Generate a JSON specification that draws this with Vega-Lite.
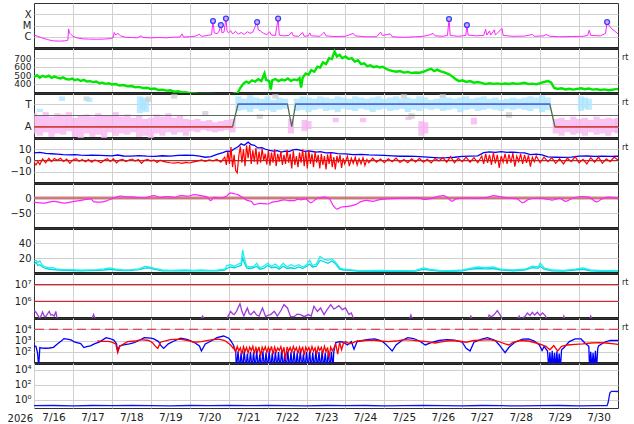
{
  "$schema": "https://vega.github.io/schema/vega-lite/v6.json",
  "background": "white",
  "padding": {"left": 5, "top": 2, "right": 2, "bottom": 2},
  "spacing": 0,
  "bounds": "flush",
  "config": {
    "view": {"stroke": "#333", "strokeWidth": 1},
    "font": "DejaVu Sans",
    "axis": {"labelFont": "DejaVu Sans", "labelFontSize": 10, "labelColor": "#222", "gridColor": "#d0d0d0", "gridWidth": 1, "ticks": false, "title": null},
    "axisX": {"labels": false, "domain": true, "domainWidth": 3, "domainColor": "#222", "grid": true},
    "axisY": {"minExtent": 28, "maxExtent": 28, "labelPadding": 3, "domain": false, "grid": true, "labelOverlap": false, "labelBound": false}
  },
  "vconcat": [
    {
      "width": 584, "height": 45,
      "layer": [
        {
          "data": {"values": [
            {"d":0.00,"f":1.4e-6},{"d":0.10,"f":1.1e-6},{"d":0.20,"f":8e-7},{"d":0.35,"f":5.5e-7},{"d":0.50,"f":4.3e-7},{"d":0.65,"f":4.1e-7},{"d":0.80,"f":4.3e-7},{"d":0.87,"f":5e-7},{"d":0.89,"f":5e-6},{"d":0.91,"f":2.2e-6},{"d":0.95,"f":1.6e-6},{"d":1.00,"f":1.1e-6},{"d":1.10,"f":8e-7},{"d":1.25,"f":6.5e-7},{"d":1.40,"f":6.2e-7},{"d":1.60,"f":6e-7},{"d":1.80,"f":6.2e-7},{"d":1.95,"f":6.8e-7},{"d":2.03,"f":8e-7},{"d":2.06,"f":2.4e-6},{"d":2.10,"f":1.4e-6},{"d":2.15,"f":2.1e-6},{"d":2.22,"f":1.2e-6},{"d":2.35,"f":9e-7},{"d":2.50,"f":8.5e-7},{"d":2.65,"f":8e-7},{"d":2.75,"f":1.2e-6},{"d":2.80,"f":8.5e-7},{"d":3.00,"f":8e-7},{"d":3.20,"f":8.5e-7},{"d":3.40,"f":8e-7},{"d":3.55,"f":9e-7},{"d":3.75,"f":9.5e-7},{"d":3.80,"f":1.8e-6},{"d":3.84,"f":9.5e-7},{"d":4.00,"f":1.0e-6},{"d":4.15,"f":1.15e-6},{"d":4.25,"f":1.7e-6},{"d":4.30,"f":1.1e-6},{"d":4.40,"f":1.2e-6},{"d":4.50,"f":1.4e-6},{"d":4.56,"f":1.5e-6},{"d":4.598,"f":2.5e-5},{"d":4.63,"f":2.2e-6},{"d":4.70,"f":1.9e-6},{"d":4.75,"f":2.8e-6},{"d":4.80,"f":1.1e-5},{"d":4.83,"f":2.2e-6},{"d":4.88,"f":2.6e-6},{"d":4.93,"f":4.1e-5},{"d":4.96,"f":3e-6},{"d":5.00,"f":2.2e-6},{"d":5.05,"f":3.5e-6},{"d":5.10,"f":1.8e-6},{"d":5.18,"f":3e-6},{"d":5.25,"f":1.7e-6},{"d":5.32,"f":2.4e-6},{"d":5.40,"f":1.6e-6},{"d":5.48,"f":2.8e-6},{"d":5.55,"f":2.0e-6},{"d":5.62,"f":2.6e-6},{"d":5.73,"f":2.0e-5},{"d":5.76,"f":4e-6},{"d":5.82,"f":3.2e-6},{"d":5.90,"f":2.0e-6},{"d":5.98,"f":1.5e-6},{"d":6.05,"f":2.8e-6},{"d":6.10,"f":1.4e-6},{"d":6.20,"f":1.3e-6},{"d":6.27,"f":4.1e-5},{"d":6.30,"f":1.4e-6},{"d":6.40,"f":1.2e-6},{"d":6.55,"f":1.3e-6},{"d":6.62,"f":2.6e-6},{"d":6.66,"f":1.2e-6},{"d":6.80,"f":1.1e-6},{"d":6.90,"f":2.4e-6},{"d":6.94,"f":1.1e-6},{"d":7.05,"f":1.2e-6},{"d":7.08,"f":2.2e-6},{"d":7.12,"f":1.2e-6},{"d":7.35,"f":1.1e-6},{"d":7.45,"f":2.5e-6},{"d":7.50,"f":1.2e-6},{"d":7.70,"f":1.05e-6},{"d":8.00,"f":1.1e-6},{"d":8.20,"f":2.0e-6},{"d":8.25,"f":1.2e-6},{"d":8.50,"f":1.0e-6},{"d":8.80,"f":1.0e-6},{"d":8.90,"f":2.6e-6},{"d":8.95,"f":1.3e-6},{"d":9.15,"f":1.8e-6},{"d":9.20,"f":1.0e-6},{"d":9.50,"f":9e-7},{"d":9.80,"f":1.0e-6},{"d":10.00,"f":1.1e-6},{"d":10.15,"f":1.4e-6},{"d":10.25,"f":2.0e-6},{"d":10.30,"f":1.2e-6},{"d":10.50,"f":1.1e-6},{"d":10.62,"f":1.3e-6},{"d":10.66,"f":3.8e-5},{"d":10.69,"f":1.3e-6},{"d":10.90,"f":1.1e-6},{"d":11.09,"f":1.3e-6},{"d":11.12,"f":1.1e-5},{"d":11.15,"f":1.4e-6},{"d":11.35,"f":1.2e-6},{"d":11.55,"f":1.3e-6},{"d":11.60,"f":4.5e-6},{"d":11.63,"f":1.4e-6},{"d":11.70,"f":3.3e-6},{"d":11.73,"f":1.4e-6},{"d":11.82,"f":4.1e-6},{"d":11.85,"f":1.4e-6},{"d":12.02,"f":5.5e-6},{"d":12.05,"f":1.3e-6},{"d":12.30,"f":1.1e-6},{"d":12.60,"f":1.15e-6},{"d":12.80,"f":1.6e-6},{"d":12.85,"f":1.1e-6},{"d":13.10,"f":1.2e-6},{"d":13.15,"f":1.6e-6},{"d":13.25,"f":1.1e-6},{"d":13.50,"f":1.0e-6},{"d":13.80,"f":1.05e-6},{"d":14.10,"f":1.1e-6},{"d":14.22,"f":1.3e-6},{"d":14.26,"f":3.8e-6},{"d":14.30,"f":1.3e-6},{"d":14.55,"f":1.2e-6},{"d":14.68,"f":2e-6},{"d":14.72,"f":2.0e-5},{"d":14.80,"f":7e-6},{"d":14.90,"f":3.5e-6},{"d":15.00,"f":1.8e-6}
          ]},
          "mark": {"type": "line", "color": "#ff22ff", "strokeWidth": 1, "clip": true},
          "encoding": {
            "x": {"field": "d", "type": "quantitative", "scale": {"domain": [0, 15], "nice": false}, "axis": {"values": [1,2,3,4,5,6,7,8,9,10,11,12,13,14]}},
            "y": {"field": "f", "type": "quantitative", "scale": {"type": "log", "domain": [1e-7, 1e-3], "nice": false}, "axis": {"values": [1e-6, 1e-5, 1e-4], "labelOverlap": false, "labelExpr": "datum.value < 3e-6 ? 'C' : datum.value < 3e-5 ? 'M' : 'X'"}}
          }
        },
        {
          "data": {"values": [
            {"d":4.598,"f":2.5e-5},{"d":4.80,"f":1.1e-5},{"d":4.93,"f":4.1e-5},{"d":5.73,"f":2.0e-5},{"d":6.27,"f":4.1e-5},{"d":10.66,"f":3.8e-5},{"d":11.12,"f":1.1e-5},{"d":14.72,"f":2.0e-5}
          ]},
          "mark": {"type": "point", "shape": "circle", "filled": true, "fill": "#e8a8f0", "stroke": "#3344ff", "strokeWidth": 1.3, "size": 24, "opacity": 1},
          "encoding": {
            "x": {"field": "d", "type": "quantitative"},
            "y": {"field": "f", "type": "quantitative", "axis": {"values": [1e-6, 1e-5, 1e-4], "labelOverlap": false, "labelExpr": "datum.value < 3e-6 ? 'C' : datum.value < 3e-5 ? 'M' : 'X'"}}
          }
        }
      ]
    },
    {
      "width": 584, "height": 45,
      "layer": [
        {
          "data": {"values": [
            {"d":0.00,"v":480},{"d":0.08,"v":500},{"d":0.15,"v":470},{"d":0.22,"v":492},{"d":0.30,"v":478},{"d":0.38,"v":495},{"d":0.45,"v":468},{"d":0.52,"v":483},{"d":0.60,"v":470},{"d":0.68,"v":462},{"d":0.75,"v":475},{"d":0.82,"v":455},{"d":0.90,"v":448},{"d":0.98,"v":460},{"d":1.05,"v":440},{"d":1.12,"v":452},{"d":1.20,"v":432},{"d":1.28,"v":445},{"d":1.36,"v":425},{"d":1.44,"v":430},{"d":1.52,"v":418},{"d":1.60,"v":425},{"d":1.68,"v":405},{"d":1.76,"v":412},{"d":1.84,"v":398},{"d":1.92,"v":405},{"d":2.00,"v":390},{"d":2.10,"v":395},{"d":2.20,"v":378},{"d":2.30,"v":384},{"d":2.40,"v":368},{"d":2.50,"v":372},{"d":2.60,"v":358},{"d":2.70,"v":362},{"d":2.80,"v":348},{"d":2.90,"v":352},{"d":3.00,"v":338},{"d":3.10,"v":342},{"d":3.20,"v":325},{"d":3.30,"v":330},{"d":3.40,"v":318},{"d":3.50,"v":322},{"d":3.60,"v":305},{"d":3.70,"v":310},{"d":3.80,"v":296},{"d":3.90,"v":300},{"d":4.00,"v":288},{"d":4.20,"v":282},{"d":4.50,"v":278},{"d":4.80,"v":275},{"d":5.10,"v":280},{"d":5.23,"v":290},{"d":5.30,"v":350},{"d":5.38,"v":400},{"d":5.45,"v":425},{"d":5.52,"v":410},{"d":5.60,"v":440},{"d":5.68,"v":425},{"d":5.76,"v":452},{"d":5.84,"v":430},{"d":5.92,"v":520},{"d":5.96,"v":445},{"d":6.04,"v":430},{"d":6.08,"v":330},{"d":6.12,"v":440},{"d":6.20,"v":455},{"d":6.28,"v":430},{"d":6.36,"v":448},{"d":6.44,"v":438},{"d":6.52,"v":460},{"d":6.60,"v":432},{"d":6.68,"v":450},{"d":6.76,"v":440},{"d":6.82,"v":465},{"d":6.86,"v":355},{"d":6.90,"v":470},{"d":6.98,"v":520},{"d":7.05,"v":505},{"d":7.12,"v":560},{"d":7.20,"v":540},{"d":7.28,"v":600},{"d":7.35,"v":590},{"d":7.42,"v":650},{"d":7.50,"v":630},{"d":7.58,"v":700},{"d":7.65,"v":690},{"d":7.72,"v":780},{"d":7.78,"v":720},{"d":7.85,"v":740},{"d":7.92,"v":700},{"d":8.00,"v":720},{"d":8.08,"v":690},{"d":8.16,"v":700},{"d":8.24,"v":660},{"d":8.32,"v":675},{"d":8.40,"v":630},{"d":8.48,"v":640},{"d":8.56,"v":605},{"d":8.64,"v":615},{"d":8.72,"v":595},{"d":8.80,"v":605},{"d":8.88,"v":590},{"d":8.96,"v":598},{"d":9.04,"v":575},{"d":9.12,"v":560},{"d":9.20,"v":550},{"d":9.30,"v":540},{"d":9.40,"v":548},{"d":9.50,"v":530},{"d":9.60,"v":538},{"d":9.70,"v":525},{"d":9.80,"v":532},{"d":9.90,"v":528},{"d":10.00,"v":540},{"d":10.10,"v":560},{"d":10.20,"v":575},{"d":10.28,"v":548},{"d":10.36,"v":565},{"d":10.44,"v":545},{"d":10.52,"v":535},{"d":10.60,"v":520},{"d":10.68,"v":505},{"d":10.76,"v":480},{"d":10.84,"v":450},{"d":10.92,"v":430},{"d":11.00,"v":440},{"d":11.10,"v":420},{"d":11.20,"v":430},{"d":11.30,"v":412},{"d":11.40,"v":420},{"d":11.50,"v":410},{"d":11.60,"v":395},{"d":11.70,"v":405},{"d":11.80,"v":398},{"d":11.90,"v":403},{"d":12.00,"v":395},{"d":12.10,"v":402},{"d":12.20,"v":396},{"d":12.30,"v":405},{"d":12.40,"v":398},{"d":12.50,"v":402},{"d":12.60,"v":410},{"d":12.70,"v":395},{"d":12.80,"v":400},{"d":12.90,"v":392},{"d":13.00,"v":405},{"d":13.10,"v":420},{"d":13.20,"v":430},{"d":13.28,"v":415},{"d":13.36,"v":350},{"d":13.45,"v":338},{"d":13.55,"v":345},{"d":13.65,"v":332},{"d":13.75,"v":340},{"d":13.85,"v":330},{"d":13.95,"v":338},{"d":14.05,"v":345},{"d":14.15,"v":335},{"d":14.25,"v":342},{"d":14.35,"v":330},{"d":14.45,"v":335},{"d":14.55,"v":325},{"d":14.65,"v":332},{"d":14.75,"v":322},{"d":14.85,"v":328},{"d":14.95,"v":335},{"d":15.00,"v":338}
          ]},
          "mark": {"type": "line", "color": "#00e600", "strokeWidth": 2.4, "clip": true},
          "encoding": {
            "x": {"field": "d", "type": "quantitative", "scale": {"domain": [0, 15], "nice": false}, "axis": {"values": [1,2,3,4,5,6,7,8,9,10,11,12,13,14]}},
            "y": {"field": "v", "type": "quantitative", "scale": {"domain": [290, 820], "nice": false, "zero": false}, "axis": {"values": [400, 500, 600, 700], "labelOverlap": false, "labelFontSize": 9}}
          }
        },
        {
          "data": {"values": [{"t": "rt"}]},
          "mark": {"type": "text", "align": "left", "baseline": "middle", "dx": 4, "fontSize": 8, "color": "#222", "clip": false},
          "encoding": {"text": {"field": "t"}, "x": {"datum": 15, "type": "quantitative"}, "y": {"datum": 700, "type": "quantitative", "axis": {"values": [400, 500, 600, 700], "labelOverlap": false, "labelFontSize": 9}}}
        }
      ]
    },
    {
      "width": 584, "height": 45,
      "resolve": {"scale": {"color": "independent"}},
      "layer": [
        {
          "data": {"values": [
            {"d":0.00,"lo":-1.6,"hi":0.2,"c":"A"},{"d":0.15,"lo":-1.8,"hi":0.0,"c":"A"},{"d":0.30,"lo":-1.5,"hi":0.3,"c":"A"},{"d":0.45,"lo":-1.9,"hi":-0.1,"c":"A"},{"d":0.60,"lo":-1.6,"hi":0.2,"c":"A"},{"d":0.75,"lo":-1.7,"hi":0.1,"c":"A"},{"d":0.90,"lo":-1.4,"hi":0.3,"c":"A"},{"d":1.05,"lo":-1.9,"hi":-0.2,"c":"A"},{"d":1.20,"lo":-2.0,"hi":0.0,"c":"A"},{"d":1.35,"lo":-1.6,"hi":0.1,"c":"A"},{"d":1.50,"lo":-1.9,"hi":-0.1,"c":"A"},{"d":1.65,"lo":-1.7,"hi":0.2,"c":"A"},{"d":1.80,"lo":-2.0,"hi":0.0,"c":"A"},{"d":1.95,"lo":-1.5,"hi":0.0,"c":"A"},{"d":2.10,"lo":-1.8,"hi":0.3,"c":"A"},{"d":2.25,"lo":-1.6,"hi":-0.1,"c":"A"},{"d":2.40,"lo":-1.7,"hi":0.1,"c":"A"},{"d":2.55,"lo":-1.5,"hi":-0.2,"c":"A"},{"d":2.70,"lo":-1.9,"hi":0.0,"c":"A"},{"d":2.85,"lo":-1.8,"hi":-0.3,"c":"A"},{"d":3.00,"lo":-2.0,"hi":-0.2,"c":"A"},{"d":3.15,"lo":-1.6,"hi":0.1,"c":"A"},{"d":3.30,"lo":-1.8,"hi":-0.1,"c":"A"},{"d":3.45,"lo":-1.5,"hi":0.2,"c":"A"},{"d":3.60,"lo":-1.7,"hi":-0.2,"c":"A"},{"d":3.75,"lo":-1.5,"hi":0.0,"c":"A"},{"d":3.90,"lo":-1.8,"hi":-0.3,"c":"A"},{"d":4.05,"lo":-1.4,"hi":-0.4,"c":"A"},{"d":4.20,"lo":-1.5,"hi":-0.3,"c":"A"},{"d":4.35,"lo":-1.3,"hi":-0.5,"c":"A"},{"d":4.50,"lo":-1.4,"hi":-0.4,"c":"A"},{"d":4.65,"lo":-1.5,"hi":-0.6,"c":"A"},{"d":4.80,"lo":-1.4,"hi":-0.5,"c":"A"},{"d":4.95,"lo":-1.3,"hi":-0.4,"c":"A"},{"d":5.10,"lo":-1.5,"hi":-0.3,"c":"A"},
            {"d":5.25,"lo":0.4,"hi":1.7,"c":"T"},{"d":5.40,"lo":0.5,"hi":1.5,"c":"T"},{"d":5.55,"lo":0.3,"hi":1.8,"c":"T"},{"d":5.70,"lo":0.6,"hi":1.6,"c":"T"},{"d":5.85,"lo":0.4,"hi":1.5,"c":"T"},{"d":6.00,"lo":0.5,"hi":1.7,"c":"T"},{"d":6.15,"lo":0.3,"hi":1.4,"c":"T"},{"d":6.30,"lo":0.5,"hi":1.6,"c":"T"},{"d":6.45,"lo":0.6,"hi":1.5,"c":"T"},{"d":6.60,"lo":-1.6,"hi":-0.3,"c":"A"},{"d":6.75,"lo":0.4,"hi":1.5,"c":"T"},{"d":6.90,"lo":0.5,"hi":1.7,"c":"T"},{"d":7.05,"lo":0.3,"hi":1.6,"c":"T"},{"d":7.20,"lo":0.5,"hi":1.5,"c":"T"},{"d":7.35,"lo":0.6,"hi":1.7,"c":"T"},{"d":7.50,"lo":0.4,"hi":1.6,"c":"T"},{"d":7.65,"lo":0.5,"hi":1.5,"c":"T"},{"d":7.80,"lo":0.3,"hi":1.7,"c":"T"},{"d":7.95,"lo":0.6,"hi":1.6,"c":"T"},{"d":8.10,"lo":0.5,"hi":1.5,"c":"T"},{"d":8.25,"lo":0.4,"hi":1.7,"c":"T"},{"d":8.40,"lo":0.6,"hi":1.6,"c":"T"},{"d":8.55,"lo":0.5,"hi":1.5,"c":"T"},{"d":8.70,"lo":0.3,"hi":1.6,"c":"T"},{"d":8.85,"lo":0.5,"hi":1.7,"c":"T"},{"d":9.00,"lo":0.6,"hi":1.5,"c":"T"},{"d":9.15,"lo":0.4,"hi":1.6,"c":"T"},{"d":9.30,"lo":0.5,"hi":1.7,"c":"T"},{"d":9.45,"lo":0.6,"hi":1.5,"c":"T"},{"d":9.60,"lo":0.3,"hi":1.6,"c":"T"},{"d":9.75,"lo":0.5,"hi":1.5,"c":"T"},{"d":9.90,"lo":0.4,"hi":1.7,"c":"T"},{"d":10.05,"lo":0.6,"hi":1.6,"c":"T"},{"d":10.20,"lo":0.5,"hi":1.4,"c":"T"},{"d":10.35,"lo":0.6,"hi":1.5,"c":"T"},{"d":10.50,"lo":0.4,"hi":1.7,"c":"T"},{"d":10.65,"lo":0.5,"hi":1.6,"c":"T"},{"d":10.80,"lo":0.6,"hi":1.5,"c":"T"},{"d":10.95,"lo":0.3,"hi":1.6,"c":"T"},{"d":11.10,"lo":0.5,"hi":1.7,"c":"T"},{"d":11.25,"lo":0.6,"hi":1.5,"c":"T"},{"d":11.40,"lo":0.4,"hi":1.6,"c":"T"},{"d":11.55,"lo":0.5,"hi":1.7,"c":"T"},{"d":11.70,"lo":0.6,"hi":1.5,"c":"T"},{"d":11.85,"lo":0.5,"hi":1.6,"c":"T"},{"d":12.00,"lo":0.4,"hi":1.4,"c":"T"},{"d":12.15,"lo":0.6,"hi":1.5,"c":"T"},{"d":12.30,"lo":0.5,"hi":1.6,"c":"T"},{"d":12.45,"lo":0.6,"hi":1.5,"c":"T"},{"d":12.60,"lo":0.5,"hi":1.6,"c":"T"},{"d":12.75,"lo":0.4,"hi":1.7,"c":"T"},{"d":12.90,"lo":0.6,"hi":1.6,"c":"T"},{"d":13.05,"lo":0.3,"hi":1.8,"c":"T"},{"d":13.20,"lo":0.5,"hi":1.6,"c":"T"},
            {"d":13.40,"lo":-1.6,"hi":-0.3,"c":"A"},{"d":13.55,"lo":-1.8,"hi":-0.2,"c":"A"},{"d":13.70,"lo":-1.5,"hi":-0.4,"c":"A"},{"d":13.85,"lo":-1.7,"hi":-0.1,"c":"A"},{"d":14.00,"lo":-1.6,"hi":-0.3,"c":"A"},{"d":14.15,"lo":-1.8,"hi":-0.2,"c":"A"},{"d":14.30,"lo":-1.5,"hi":-0.4,"c":"A"},{"d":14.45,"lo":-1.7,"hi":-0.1,"c":"A"},{"d":14.60,"lo":-1.6,"hi":-0.3,"c":"A"},{"d":14.75,"lo":-1.8,"hi":-0.2,"c":"A"},{"d":14.90,"lo":-1.5,"hi":-0.3,"c":"A"},{"d":15.00,"lo":-1.6,"hi":-0.2,"c":"A"},
            {"d":0.15,"lo":0.3,"hi":0.6,"c":"T"},{"d":0.72,"lo":1.3,"hi":1.7,"c":"T"},{"d":1.35,"lo":1.3,"hi":1.7,"c":"G"},{"d":1.42,"lo":1.2,"hi":1.6,"c":"T"},{"d":2.72,"lo":0.2,"hi":1.7,"c":"T"},{"d":2.80,"lo":0.5,"hi":1.6,"c":"T"},{"d":2.88,"lo":0.3,"hi":1.5,"c":"T"},{"d":2.95,"lo":1.2,"hi":1.7,"c":"G"},{"d":6.95,"lo":-1.4,"hi":-0.4,"c":"A"},{"d":7.05,"lo":-1.2,"hi":-0.5,"c":"A"},{"d":7.75,"lo":-0.6,"hi":-0.2,"c":"A"},{"d":8.45,"lo":-0.6,"hi":-0.2,"c":"A"},{"d":9.62,"lo":-0.4,"hi":-0.1,"c":"A"},{"d":9.95,"lo":-1.8,"hi":-0.5,"c":"A"},{"d":10.05,"lo":-1.6,"hi":-0.6,"c":"A"},{"d":11.30,"lo":-0.8,"hi":-0.2,"c":"A"},{"d":14.05,"lo":0.4,"hi":1.7,"c":"T"},{"d":14.15,"lo":0.6,"hi":1.6,"c":"T"},{"d":14.25,"lo":0.5,"hi":1.5,"c":"T"},{"d":5.80,"lo":-0.3,"hi":0.1,"c":"G"},{"d":6.20,"lo":1.5,"hi":1.9,"c":"G"},{"d":9.50,"lo":1.5,"hi":1.9,"c":"G"},{"d":9.70,"lo":-0.3,"hi":0.2,"c":"G"},{"d":10.50,"lo":1.6,"hi":1.9,"c":"G"},{"d":12.20,"lo":-0.2,"hi":0.3,"c":"G"},{"d":3.60,"lo":1.5,"hi":1.9,"c":"G"},{"d":4.40,"lo":0.0,"hi":0.4,"c":"G"}
          ]},
          "mark": {"type": "rule", "strokeWidth": 6.2, "opacity": 0.75, "clip": true},
          "encoding": {
            "x": {"field": "d", "type": "quantitative", "scale": {"domain": [0, 15], "nice": false}, "axis": {"values": [1,2,3,4,5,6,7,8,9,10,11,12,13,14]}},
            "y": {"field": "lo", "type": "quantitative", "scale": {"domain": [-2, 2], "nice": false}, "axis": {"values": [-1, 1], "labelOverlap": false, "labelExpr": "datum.value > 0 ? 'T' : 'A'"}},
            "y2": {"field": "hi"},
            "color": {"field": "c", "type": "nominal", "scale": {"domain": ["T", "A", "G"], "range": ["#a8e4ff", "#f7b0f0", "#cccccc"]}, "legend": null}
          }
        },
        {
          "data": {"values": [{"v": 0}]},
          "mark": {"type": "rule", "color": "#666", "strokeWidth": 1},
          "encoding": {"y": {"field": "v", "type": "quantitative", "axis": {"values": [-1, 1], "labelOverlap": false, "labelExpr": "datum.value > 0 ? 'T' : 'A'"}}}
        },
        {
          "data": {"values": [
            {"d":0,"s":-1},{"d":5.10,"s":-1},{"d":5.24,"s":1},{"d":6.51,"s":1},{"d":6.62,"s":-1},{"d":6.72,"s":1},{"d":13.25,"s":1},{"d":13.38,"s":-1},{"d":15,"s":-1}
          ]},
          "mark": {"type": "line", "color": "#4f6e4f", "strokeWidth": 1.3, "clip": true},
          "encoding": {"x": {"field": "d", "type": "quantitative"}, "y": {"field": "s", "type": "quantitative", "axis": {"values": [-1, 1], "labelOverlap": false, "labelExpr": "datum.value > 0 ? 'T' : 'A'"}}}
        },
        {
          "data": {"values": [
            {"d":0,"e":5.10,"s":-1,"k":"A"},{"d":5.24,"e":6.51,"s":1,"k":"T"},{"d":6.72,"e":13.25,"s":1,"k":"T"},{"d":13.38,"e":15,"s":-1,"k":"A"}
          ]},
          "mark": {"type": "rule", "strokeWidth": 1.3, "clip": true},
          "encoding": {
            "x": {"field": "d", "type": "quantitative"},
            "x2": {"field": "e"},
            "y": {"field": "s", "type": "quantitative", "axis": {"values": [-1, 1], "labelOverlap": false, "labelExpr": "datum.value > 0 ? 'T' : 'A'"}},
            "color": {"field": "k", "type": "nominal", "scale": {"domain": ["T", "A"], "range": ["#5068f0", "#e83a3a"]}, "legend": null}
          }
        },
        {
          "data": {"values": [{"t": "rt"}]},
          "mark": {"type": "text", "align": "left", "baseline": "middle", "dx": 4, "fontSize": 8, "color": "#222", "clip": false},
          "encoding": {"text": {"field": "t"}, "x": {"datum": 15, "type": "quantitative"}, "y": {"datum": 1.1, "type": "quantitative", "axis": {"values": [-1, 1], "labelOverlap": false, "labelExpr": "datum.value > 0 ? 'T' : 'A'"}}}
        }
      ]
    },
    {
      "width": 584, "height": 45,
      "layer": [
        {
          "data": {"values": [{"v": 0}]},
          "mark": {"type": "rule", "color": "#b03030", "strokeWidth": 1},
          "encoding": {"y": {"field": "v", "type": "quantitative", "axis": {"values": [-10, 0, 10], "labelOverlap": false}}}
        },
        {
          "data": {"values": [
            {"d":0.00,"b":6.8},{"d":0.15,"b":7.2},{"d":0.30,"b":6.3},{"d":0.45,"b":6.0},{"d":0.60,"b":5.6},{"d":0.75,"b":5.2},{"d":0.90,"b":5.0},{"d":1.05,"b":5.3},{"d":1.20,"b":4.8},{"d":1.35,"b":4.5},{"d":1.50,"b":4.7},{"d":1.70,"b":4.6},{"d":1.85,"b":4.4},{"d":2.00,"b":4.2},{"d":2.15,"b":4.9},{"d":2.30,"b":4.0},{"d":2.50,"b":3.9},{"d":2.70,"b":4.3},{"d":2.90,"b":3.8},{"d":3.10,"b":3.6},{"d":3.30,"b":4.2},{"d":3.50,"b":3.9},{"d":3.70,"b":4.5},{"d":3.90,"b":4.8},{"d":4.10,"b":4.5},{"d":4.25,"b":3.8},{"d":4.40,"b":2.9},{"d":4.55,"b":3.5},{"d":4.70,"b":5.5},{"d":4.85,"b":7.0},{"d":4.95,"b":8.3},{"d":5.05,"b":8.0},{"d":5.15,"b":10.5},{"d":5.25,"b":12.5},{"d":5.32,"b":14.8},{"d":5.40,"b":13.5},{"d":5.50,"b":16.3},{"d":5.58,"b":14.0},{"d":5.66,"b":13.5},{"d":5.75,"b":11.2},{"d":5.85,"b":11.5},{"d":5.95,"b":10.0},{"d":6.05,"b":9.0},{"d":6.15,"b":8.3},{"d":6.25,"b":8.8},{"d":6.35,"b":7.5},{"d":6.45,"b":8.3},{"d":6.55,"b":8.0},{"d":6.65,"b":9.5},{"d":6.75,"b":9.8},{"d":6.85,"b":9.0},{"d":6.95,"b":8.2},{"d":7.05,"b":8.5},{"d":7.15,"b":8.0},{"d":7.25,"b":7.4},{"d":7.35,"b":7.8},{"d":7.50,"b":6.8},{"d":7.65,"b":7.0},{"d":7.80,"b":6.2},{"d":8.00,"b":5.8},{"d":8.20,"b":5.3},{"d":8.40,"b":5.5},{"d":8.60,"b":5.0},{"d":8.80,"b":4.8},{"d":9.00,"b":4.5},{"d":9.20,"b":4.2},{"d":9.40,"b":3.8},{"d":9.60,"b":3.9},{"d":9.80,"b":3.6},{"d":10.00,"b":3.3},{"d":10.20,"b":2.8},{"d":10.40,"b":2.4},{"d":10.60,"b":2.5},{"d":10.80,"b":2.9},{"d":11.00,"b":3.6},{"d":11.20,"b":3.9},{"d":11.40,"b":4.2},{"d":11.55,"b":7.0},{"d":11.70,"b":7.6},{"d":11.85,"b":7.2},{"d":12.00,"b":7.8},{"d":12.15,"b":7.3},{"d":12.30,"b":7.5},{"d":12.45,"b":7.0},{"d":12.60,"b":6.8},{"d":12.75,"b":5.3},{"d":12.90,"b":5.6},{"d":13.05,"b":5.0},{"d":13.20,"b":3.2},{"d":13.40,"b":2.9},{"d":13.60,"b":2.7},{"d":13.80,"b":3.0},{"d":14.00,"b":3.8},{"d":14.20,"b":4.0},{"d":14.40,"b":3.6},{"d":14.60,"b":3.9},{"d":14.80,"b":3.7},{"d":15.00,"b":3.8}
          ]},
          "mark": {"type": "line", "color": "#0000ff", "strokeWidth": 1.3, "clip": true},
          "encoding": {
            "x": {"field": "d", "type": "quantitative", "scale": {"domain": [0, 15], "nice": false}, "axis": {"values": [1,2,3,4,5,6,7,8,9,10,11,12,13,14]}},
            "y": {"field": "b", "type": "quantitative", "scale": {"domain": [-20, 20], "nice": false}, "axis": {"values": [-10, 0, 10], "labelOverlap": false}}
          }
        },
        {
          "data": {"values": [
            {"d":0.00,"z":-1.5},{"d":0.05,"z":-4.0},{"d":0.10,"z":-1.0},{"d":0.15,"z":-3.6},{"d":0.22,"z":1.5},{"d":0.30,"z":-2.0},{"d":0.38,"z":2.0},{"d":0.45,"z":-1.0},{"d":0.52,"z":1.8},{"d":0.60,"z":0.2},{"d":0.68,"z":1.9},{"d":0.76,"z":-0.8},{"d":0.84,"z":1.2},{"d":0.92,"z":-2.5},{"d":1.00,"z":0.5},{"d":1.08,"z":1.7},{"d":1.16,"z":-0.6},{"d":1.24,"z":1.0},{"d":1.32,"z":-1.2},{"d":1.40,"z":0.8},{"d":1.48,"z":-1.5},{"d":1.56,"z":0.6},{"d":1.64,"z":-0.4},{"d":1.72,"z":-2.0},{"d":1.80,"z":0.2},{"d":1.88,"z":1.5},{"d":1.96,"z":-0.8},{"d":2.04,"z":1.4},{"d":2.12,"z":-2.2},{"d":2.20,"z":0.3},{"d":2.28,"z":1.0},{"d":2.36,"z":-1.0},{"d":2.44,"z":0.5},{"d":2.52,"z":1.3},{"d":2.60,"z":-0.5},{"d":2.68,"z":0.8},{"d":2.76,"z":-2.5},{"d":2.84,"z":0.2},{"d":2.92,"z":1.0},{"d":3.00,"z":-0.5},{"d":3.08,"z":0.6},{"d":3.16,"z":-1.8},{"d":3.24,"z":0.3},{"d":3.32,"z":-0.8},{"d":3.40,"z":-1.5},{"d":3.50,"z":-2.0},{"d":3.60,"z":-2.4},{"d":3.70,"z":-1.8},{"d":3.80,"z":-2.6},{"d":3.90,"z":-1.6},{"d":4.00,"z":-2.2},{"d":4.10,"z":-1.2},{"d":4.20,"z":-0.6},{"d":4.30,"z":0.5},{"d":4.40,"z":-0.8},{"d":4.50,"z":0.6},{"d":4.60,"z":-0.3},{"d":4.70,"z":1.0},{"d":4.80,"z":-1.5},
            {"d":4.90,"z":3.0},{"d":4.94,"z":-4.0},{"d":4.98,"z":8.0},{"d":5.02,"z":-3.0},{"d":5.06,"z":12.0},{"d":5.10,"z":-6.0},{"d":5.14,"z":5.0},{"d":5.18,"z":-9.0},{"d":5.22,"z":-11.0},{"d":5.26,"z":4.0},{"d":5.30,"z":12.5},{"d":5.34,"z":-2.0},{"d":5.38,"z":10.0},{"d":5.42,"z":-5.0},{"d":5.46,"z":13.5},{"d":5.50,"z":2.0},{"d":5.54,"z":14.0},{"d":5.58,"z":-3.0},{"d":5.62,"z":9.0},{"d":5.66,"z":-1.0},{"d":5.70,"z":11.0},{"d":5.74,"z":-3.5},{"d":5.78,"z":8.0},{"d":5.82,"z":-2.0},{"d":5.86,"z":10.5},{"d":5.90,"z":0.0},{"d":5.94,"z":6.0},{"d":5.98,"z":-3.6},{"d":6.02,"z":9.0},{"d":6.06,"z":-4.5},{"d":6.10,"z":7.0},{"d":6.14,"z":-2.0},{"d":6.18,"z":10.0},{"d":6.22,"z":-5.0},{"d":6.26,"z":6.0},{"d":6.30,"z":-1.0},{"d":6.34,"z":8.0},{"d":6.38,"z":-4.0},{"d":6.42,"z":5.0},{"d":6.46,"z":-3.0},{"d":6.50,"z":9.5},{"d":6.54,"z":-2.0},{"d":6.58,"z":6.0},{"d":6.62,"z":-7.0},{"d":6.66,"z":8.6},{"d":6.70,"z":-4.0},{"d":6.74,"z":4.0},{"d":6.78,"z":-6.0},{"d":6.82,"z":7.0},{"d":6.86,"z":-2.0},{"d":6.90,"z":10.0},{"d":6.94,"z":-5.0},{"d":6.98,"z":8.0},{"d":7.02,"z":-7.0},{"d":7.06,"z":9.0},{"d":7.10,"z":-3.0},{"d":7.14,"z":6.0},{"d":7.18,"z":-6.0},{"d":7.22,"z":8.0},{"d":7.26,"z":-2.0},{"d":7.30,"z":5.0},{"d":7.34,"z":-7.0},{"d":7.38,"z":6.0},{"d":7.42,"z":-4.0},{"d":7.46,"z":4.0},{"d":7.50,"z":-8.0},{"d":7.54,"z":5.5},{"d":7.58,"z":-3.0},{"d":7.62,"z":6.8},{"d":7.66,"z":-6.0},{"d":7.70,"z":3.0},{"d":7.74,"z":-8.0},{"d":7.78,"z":4.0},{"d":7.82,"z":-2.0},{"d":7.86,"z":5.0},{"d":7.90,"z":-6.5},{"d":7.94,"z":2.0},{"d":7.98,"z":-3.0},{"d":8.05,"z":3.8},{"d":8.10,"z":-5.0},{"d":8.15,"z":2.0},{"d":8.20,"z":-2.5},{"d":8.25,"z":3.0},{"d":8.30,"z":-4.0},{"d":8.35,"z":1.5},{"d":8.40,"z":-3.0},{"d":8.45,"z":2.5},{"d":8.50,"z":-4.5},{"d":8.55,"z":1.0},{"d":8.60,"z":-2.0},{"d":8.70,"z":2.0},{"d":8.80,"z":-1.5},{"d":8.90,"z":1.2},{"d":9.00,"z":-2.0},{"d":9.10,"z":1.5},{"d":9.20,"z":-1.0},{"d":9.30,"z":2.2},{"d":9.40,"z":-1.8},{"d":9.50,"z":0.8},{"d":9.60,"z":-2.0},{"d":9.70,"z":1.5},{"d":9.80,"z":-1.2},{"d":9.90,"z":2.0},{"d":10.00,"z":-1.5},{"d":10.10,"z":1.0},{"d":10.20,"z":-2.1},{"d":10.30,"z":1.8},{"d":10.40,"z":-0.5},{"d":10.50,"z":2.5},{"d":10.60,"z":-1.5},{"d":10.70,"z":3.5},{"d":10.80,"z":-2.0},{"d":10.90,"z":2.0},{"d":11.00,"z":-1.0},{"d":11.10,"z":3.0},{"d":11.20,"z":-1.5},{"d":11.30,"z":2.5},{"d":11.40,"z":-2.0},{"d":11.50,"z":4.0},{"d":11.55,"z":-3.0},{"d":11.60,"z":6.0},{"d":11.65,"z":-2.0},{"d":11.70,"z":5.0},{"d":11.75,"z":-4.0},{"d":11.80,"z":7.0},{"d":11.85,"z":-2.5},{"d":11.90,"z":5.0},{"d":11.95,"z":-6.6},{"d":12.00,"z":4.0},{"d":12.05,"z":-1.5},{"d":12.10,"z":6.0},{"d":12.15,"z":-3.0},{"d":12.20,"z":5.5},{"d":12.25,"z":-2.0},{"d":12.30,"z":6.5},{"d":12.35,"z":-5.5},{"d":12.40,"z":4.0},{"d":12.45,"z":-1.0},{"d":12.50,"z":6.0},{"d":12.55,"z":-3.0},{"d":12.60,"z":5.0},{"d":12.65,"z":-2.0},{"d":12.70,"z":4.5},{"d":12.75,"z":-5.5},{"d":12.80,"z":3.0},{"d":12.85,"z":-1.0},{"d":12.90,"z":4.0},{"d":13.00,"z":-2.0},{"d":13.10,"z":3.0},{"d":13.20,"z":-1.0},{"d":13.30,"z":2.5},{"d":13.40,"z":-2.5},{"d":13.50,"z":1.5},{"d":13.60,"z":-3.0},{"d":13.70,"z":2.0},{"d":13.80,"z":-1.0},{"d":13.90,"z":3.5},{"d":14.00,"z":-2.0},{"d":14.10,"z":1.0},{"d":14.20,"z":-3.0},{"d":14.30,"z":2.5},{"d":14.40,"z":-1.5},{"d":14.50,"z":3.0},{"d":14.60,"z":-2.5},{"d":14.70,"z":1.5},{"d":14.80,"z":-1.0},{"d":14.90,"z":3.0},{"d":15.00,"z":0.5}
          ]},
          "mark": {"type": "line", "color": "#ff0000", "strokeWidth": 1.2, "clip": true},
          "encoding": {"x": {"field": "d", "type": "quantitative"}, "y": {"field": "z", "type": "quantitative", "axis": {"values": [-10, 0, 10], "labelOverlap": false}}}
        },
        {
          "data": {"values": [{"t": "rt"}]},
          "mark": {"type": "text", "align": "left", "baseline": "middle", "dx": 4, "fontSize": 8, "color": "#222", "clip": false},
          "encoding": {"text": {"field": "t"}, "x": {"datum": 15, "type": "quantitative"}, "y": {"datum": 11, "type": "quantitative", "axis": {"values": [-10, 0, 10], "labelOverlap": false}}}
        }
      ]
    },
    {
      "width": 584, "height": 45,
      "layer": [
        {
          "data": {"values": [{"v": 0}]},
          "mark": {"type": "rule", "color": "#c46a6a", "strokeWidth": 3, "opacity": 0.85},
          "encoding": {"y": {"field": "v", "type": "quantitative", "axis": {"values": [-50, 0], "labelOverlap": false}}}
        },
        {
          "data": {"values": [
            {"d":0.00,"s":-14},{"d":0.26,"s":-17},{"d":0.51,"s":-11},{"d":0.77,"s":-17},{"d":1.03,"s":-11},{"d":1.28,"s":-6},{"d":1.46,"s":-3},{"d":1.54,"s":-13},{"d":1.71,"s":-14},{"d":1.88,"s":-9},{"d":2.05,"s":0},{"d":2.23,"s":6},{"d":2.40,"s":4},{"d":2.57,"s":3},{"d":2.83,"s":0},{"d":3.08,"s":8},{"d":3.25,"s":2},{"d":3.42,"s":5},{"d":3.60,"s":2},{"d":3.77,"s":8},{"d":3.95,"s":6},{"d":4.11,"s":11},{"d":4.28,"s":8},{"d":4.45,"s":3},{"d":4.54,"s":-9},{"d":4.62,"s":2},{"d":4.80,"s":0},{"d":4.93,"s":5},{"d":5.05,"s":17},{"d":5.14,"s":14},{"d":5.22,"s":12},{"d":5.31,"s":6},{"d":5.40,"s":-2},{"d":5.48,"s":-8},{"d":5.58,"s":-11},{"d":5.65,"s":-22},{"d":5.80,"s":-18},{"d":6.00,"s":-20},{"d":6.12,"s":-14},{"d":6.25,"s":-11},{"d":6.42,"s":-6},{"d":6.55,"s":-9},{"d":6.68,"s":-9},{"d":6.78,"s":-4},{"d":6.85,"s":-6},{"d":6.98,"s":-3},{"d":7.11,"s":-16},{"d":7.20,"s":-8},{"d":7.30,"s":0},{"d":7.40,"s":2},{"d":7.48,"s":3},{"d":7.58,"s":-2},{"d":7.70,"s":-28},{"d":7.78,"s":-37},{"d":7.90,"s":-30},{"d":8.05,"s":-28},{"d":8.25,"s":-22},{"d":8.40,"s":-12},{"d":8.55,"s":-8},{"d":8.70,"s":-11},{"d":8.85,"s":-6},{"d":9.05,"s":-3},{"d":9.30,"s":-1},{"d":9.60,"s":0},{"d":9.85,"s":1},{"d":10.05,"s":-5},{"d":10.20,"s":-2},{"d":10.40,"s":6},{"d":10.52,"s":8},{"d":10.62,"s":2},{"d":10.73,"s":-11},{"d":10.85,"s":-3},{"d":11.10,"s":0},{"d":11.40,"s":-1},{"d":11.65,"s":2},{"d":11.80,"s":8},{"d":11.95,"s":5},{"d":12.15,"s":0},{"d":12.40,"s":-2},{"d":12.55,"s":-16},{"d":12.70,"s":-5},{"d":12.95,"s":0},{"d":13.10,"s":-2},{"d":13.30,"s":-7},{"d":13.50,"s":-1},{"d":13.65,"s":-11},{"d":13.85,"s":0},{"d":14.05,"s":5},{"d":14.25,"s":3},{"d":14.45,"s":-13},{"d":14.60,"s":-2},{"d":14.75,"s":3},{"d":14.90,"s":1},{"d":15.00,"s":-2}
          ]},
          "mark": {"type": "line", "color": "#ff22ff", "strokeWidth": 1.2, "interpolate": "monotone", "clip": true},
          "encoding": {
            "x": {"field": "d", "type": "quantitative", "scale": {"domain": [0, 15], "nice": false}, "axis": {"values": [1,2,3,4,5,6,7,8,9,10,11,12,13,14]}},
            "y": {"field": "s", "type": "quantitative", "scale": {"domain": [-100, 50], "nice": false}, "axis": {"values": [-50, 0], "labelOverlap": false}}
          }
        }
      ]
    },
    {
      "width": 584, "height": 45,
      "layer": [
        {
          "data": {"values": [
            {"d":0.00,"n":15.6,"m":12},{"d":0.05,"n":17,"m":14},{"d":0.10,"n":14,"m":10},{"d":0.15,"n":16,"m":11},{"d":0.22,"n":10,"m":8},{"d":0.30,"n":8,"m":6},{"d":0.40,"n":6.7,"m":5},{"d":0.50,"n":7,"m":4.5},{"d":0.60,"n":5,"m":4},{"d":0.80,"n":4.4,"m":3.5},{"d":1.00,"n":4.5,"m":3.2},{"d":1.20,"n":3.8,"m":3},{"d":1.40,"n":4.2,"m":3.3},{"d":1.60,"n":4.5,"m":3.5},{"d":1.80,"n":5.5,"m":4},{"d":1.95,"n":6.7,"m":5},{"d":2.10,"n":5,"m":4},{"d":2.30,"n":4,"m":3.2},{"d":2.50,"n":4.5,"m":3.5},{"d":2.70,"n":5.5,"m":4.5},{"d":2.85,"n":8.9,"m":6.5},{"d":2.95,"n":8,"m":7},{"d":3.10,"n":6,"m":5},{"d":3.30,"n":4,"m":3},{"d":3.50,"n":3.5,"m":2.8},{"d":3.70,"n":3.8,"m":3},{"d":3.90,"n":4.2,"m":3.2},{"d":4.10,"n":3.6,"m":3},{"d":4.30,"n":4,"m":3},{"d":4.50,"n":3.5,"m":2.8},{"d":4.70,"n":3.8,"m":3},{"d":4.90,"n":5,"m":4},{"d":4.95,"n":10,"m":6},{"d":5.05,"n":11,"m":8},{"d":5.15,"n":9,"m":7},{"d":5.25,"n":12,"m":9},{"d":5.32,"n":13,"m":10},{"d":5.36,"n":31,"m":20},{"d":5.40,"n":20,"m":14},{"d":5.46,"n":9,"m":6.7},{"d":5.55,"n":8,"m":6},{"d":5.65,"n":9,"m":7},{"d":5.72,"n":13,"m":9},{"d":5.80,"n":7,"m":5},{"d":5.90,"n":9,"m":6},{"d":6.00,"n":13,"m":10},{"d":6.10,"n":9,"m":7},{"d":6.20,"n":12,"m":8},{"d":6.30,"n":7,"m":5},{"d":6.40,"n":13,"m":9},{"d":6.50,"n":8,"m":6},{"d":6.60,"n":11,"m":7},{"d":6.70,"n":9,"m":6},{"d":6.80,"n":11,"m":8},{"d":6.90,"n":8,"m":6},{"d":7.00,"n":11,"m":9},{"d":7.08,"n":17,"m":12},{"d":7.15,"n":10,"m":8},{"d":7.25,"n":12,"m":9},{"d":7.35,"n":22,"m":17},{"d":7.45,"n":18,"m":15},{"d":7.55,"n":17,"m":13},{"d":7.65,"n":19,"m":16},{"d":7.75,"n":14,"m":12},{"d":7.85,"n":7,"m":5},{"d":7.95,"n":5,"m":4},{"d":8.10,"n":4.4,"m":3.5},{"d":8.30,"n":3.5,"m":2.5},{"d":8.60,"n":3,"m":2.2},{"d":8.90,"n":3.5,"m":2.5},{"d":9.20,"n":3,"m":2.2},{"d":9.50,"n":3.2,"m":2.3},{"d":9.80,"n":3.5,"m":2.5},{"d":10.00,"n":6.7,"m":5},{"d":10.15,"n":5,"m":4},{"d":10.40,"n":3.5,"m":2.5},{"d":10.70,"n":3,"m":2.2},{"d":11.00,"n":4,"m":3},{"d":11.20,"n":6,"m":5},{"d":11.40,"n":8,"m":6},{"d":11.60,"n":7,"m":5.5},{"d":11.80,"n":8,"m":6},{"d":12.00,"n":5,"m":4},{"d":12.30,"n":4,"m":3},{"d":12.60,"n":5,"m":4},{"d":12.80,"n":9,"m":7},{"d":12.95,"n":8,"m":6.5},{"d":13.00,"n":13,"m":9},{"d":13.10,"n":7,"m":5},{"d":13.30,"n":4,"m":3},{"d":13.60,"n":3.5,"m":2.5},{"d":13.90,"n":5,"m":4},{"d":14.10,"n":6.7,"m":5},{"d":14.30,"n":4,"m":3},{"d":14.60,"n":3,"m":2.2},{"d":14.90,"n":3.5,"m":2.5},{"d":15.00,"n":3.2,"m":2.4}
          ]},
          "layer": [
            {
              "mark": {"type": "line", "color": "#00d4dc", "strokeWidth": 1.3, "clip": true},
              "encoding": {
                "x": {"field": "d", "type": "quantitative", "scale": {"domain": [0, 15], "nice": false}, "axis": {"values": [1,2,3,4,5,6,7,8,9,10,11,12,13,14]}},
                "y": {"field": "m", "type": "quantitative", "scale": {"domain": [0, 60], "nice": false}, "axis": {"values": [20, 40], "labelOverlap": false}}
              }
            },
            {
              "mark": {"type": "line", "color": "#22eeee", "strokeWidth": 1.3, "clip": true},
              "encoding": {"x": {"field": "d", "type": "quantitative"}, "y": {"field": "n", "type": "quantitative", "axis": {"values": [20, 40], "labelOverlap": false}}}
            }
          ]
        }
      ]
    },
    {
      "width": 584, "height": 45,
      "layer": [
        {
          "data": {"values": [
            {"d":0.00,"e":2.8e5},{"d":0.05,"e":2.2e5},{"d":0.09,"e":1.6e5},{"d":0.15,"e":9e4},{"d":0.22,"e":2.3e5},{"d":0.26,"e":1.3e5},{"d":0.30,"e":1.2e5},{"d":0.35,"e":1.8e5},{"d":0.39,"e":2.5e5},{"d":0.43,"e":1.5e5},{"d":0.47,"e":1.6e5},{"d":0.52,"e":1.3e5},{"d":0.56,"e":2.5e5},{"d":0.60,"e":8e4},{"d":1.48,"e":8e4},{"d":1.53,"e":1.6e5},{"d":1.58,"e":8e4},{"d":4.28,"e":8e4},{"d":4.33,"e":1.3e5},{"d":4.38,"e":8e4},{"d":4.95,"e":9e4},{"d":5.05,"e":2.5e5},{"d":5.10,"e":1.8e5},{"d":5.14,"e":1.6e5},{"d":5.20,"e":2.5e5},{"d":5.29,"e":7.2e5},{"d":5.34,"e":2.5e5},{"d":5.39,"e":1.3e5},{"d":5.44,"e":2.5e5},{"d":5.48,"e":4e5},{"d":5.53,"e":1.8e5},{"d":5.57,"e":1.6e5},{"d":5.65,"e":2.5e5},{"d":5.72,"e":1.5e5},{"d":5.78,"e":1.3e5},{"d":5.87,"e":4e5},{"d":5.95,"e":1.2e5},{"d":6.02,"e":1.5e5},{"d":6.08,"e":1.6e5},{"d":6.17,"e":2.5e5},{"d":6.25,"e":1.3e5},{"d":6.35,"e":3e5},{"d":6.42,"e":6.3e5},{"d":6.51,"e":4e5},{"d":6.59,"e":1.2e5},{"d":6.68,"e":1.2e5},{"d":6.76,"e":1.7e5},{"d":6.85,"e":1.6e5},{"d":6.94,"e":1.2e5},{"d":7.05,"e":1.6e5},{"d":7.12,"e":1.3e5},{"d":7.19,"e":5e5},{"d":7.28,"e":2.5e5},{"d":7.36,"e":4e5},{"d":7.45,"e":1.6e5},{"d":7.52,"e":3e5},{"d":7.62,"e":6.3e5},{"d":7.70,"e":3.5e5},{"d":7.75,"e":4e5},{"d":7.83,"e":5.5e5},{"d":7.92,"e":3.2e5},{"d":8.00,"e":4e5},{"d":8.09,"e":1.6e5},{"d":8.15,"e":2e5},{"d":8.22,"e":8e4},{"d":9.64,"e":8e4},{"d":9.68,"e":1.5e5},{"d":9.72,"e":8e4},{"d":11.18,"e":8e4},{"d":11.22,"e":1.3e5},{"d":11.26,"e":8e4},{"d":11.65,"e":8e4},{"d":11.69,"e":1.5e5},{"d":11.75,"e":1.2e5},{"d":11.82,"e":1.6e5},{"d":11.90,"e":2.8e5},{"d":11.99,"e":1.3e5},{"d":12.05,"e":8e4},{"d":12.42,"e":8e4},{"d":12.46,"e":1.3e5},{"d":12.50,"e":8e4},{"d":12.62,"e":1.3e5},{"d":12.67,"e":2e5},{"d":12.74,"e":1.4e5},{"d":12.80,"e":2.2e5},{"d":12.86,"e":1.5e5},{"d":12.93,"e":2.2e5},{"d":13.00,"e":1.4e5},{"d":13.06,"e":2e5},{"d":13.12,"e":1.5e5},{"d":13.19,"e":8e4},{"d":13.58,"e":8e4},{"d":13.61,"e":1.3e5},{"d":13.64,"e":8e4},{"d":14.27,"e":8e4},{"d":14.30,"e":1.3e5},{"d":14.33,"e":8e4},{"d":15.00,"e":8e4}
          ]},
          "mark": {"type": "line", "color": "#a03ad8", "strokeWidth": 1.3, "clip": true},
          "encoding": {
            "x": {"field": "d", "type": "quantitative", "scale": {"domain": [0, 15], "nice": false}, "axis": {"values": [1,2,3,4,5,6,7,8,9,10,11,12,13,14]}},
            "y": {"field": "e", "type": "quantitative", "scale": {"type": "log", "domain": [1e5, 5e7], "nice": false}, "axis": {"values": [1e6, 1e7], "labelOverlap": false, "labelExpr": "datum.value > 3e6 ? '10⁷' : '10⁶'"}}
          }
        },
        {
          "data": {"values": [{"v": 1e6}, {"v": 1e7}]},
          "mark": {"type": "rule", "color": "#cc0000", "strokeWidth": 1},
          "encoding": {"y": {"field": "v", "type": "quantitative", "axis": {"values": [1e6, 1e7], "labelOverlap": false, "labelExpr": "datum.value > 3e6 ? '10⁷' : '10⁶'"}}}
        },
        {
          "data": {"values": [{"t": "rt"}]},
          "mark": {"type": "text", "align": "left", "baseline": "middle", "dx": 4, "fontSize": 8, "color": "#222", "clip": false},
          "encoding": {"text": {"field": "t"}, "x": {"datum": 15, "type": "quantitative"}, "y": {"datum": 1.26e7, "type": "quantitative", "axis": {"values": [1e6, 1e7], "labelOverlap": false, "labelExpr": "datum.value > 3e6 ? '10⁷' : '10⁶'"}}}
        }
      ]
    },
    {
      "width": 584, "height": 45,
      "layer": [
        {
          "data": {"values": [{"v": 1e4}]},
          "mark": {"type": "rule", "color": "#e02020", "strokeWidth": 1.2, "strokeDash": [9, 5]},
          "encoding": {"y": {"field": "v", "type": "quantitative", "axis": {"values": [100, 1000, 10000], "labelOverlap": false, "labelExpr": "datum.value > 3000 ? '10⁴' : datum.value > 300 ? '10³' : '10²'"}}}
        },
        {
          "data": {"values": [
            {"d":0.00,"p":330},{"d":0.05,"p":300},{"d":0.09,"p":83},{"d":0.12,"p":5},{"d":0.15,"p":234},{"d":0.20,"p":210},{"d":0.30,"p":204},{"d":0.40,"p":215},{"d":0.50,"p":250},{"d":0.60,"p":500},{"d":0.70,"p":912},{"d":0.77,"p":1480},{"d":0.85,"p":1300},{"d":0.95,"p":1120},{"d":1.05,"p":700},{"d":1.20,"p":525},{"d":1.28,"p":234},{"d":1.35,"p":280},{"d":1.45,"p":330},{"d":1.55,"p":500},{"d":1.70,"p":794},{"d":1.85,"p":1780},{"d":1.95,"p":1500},{"d":2.05,"p":1100},{"d":2.12,"p":525},{"d":2.15,"p":117},{"d":2.20,"p":330},{"d":2.30,"p":400},{"d":2.45,"p":500},{"d":2.55,"p":600},{"d":2.70,"p":1000},{"d":2.83,"p":1780},{"d":3.00,"p":1600},{"d":3.08,"p":1400},{"d":3.20,"p":800},{"d":3.25,"p":380},{"d":3.33,"p":200},{"d":3.45,"p":500},{"d":3.60,"p":900},{"d":3.77,"p":1585},{"d":3.95,"p":1200},{"d":4.11,"p":700},{"d":4.25,"p":330},{"d":4.30,"p":117},{"d":4.40,"p":500},{"d":4.55,"p":900},{"d":4.70,"p":1800},{"d":4.87,"p":2500},{"d":5.00,"p":1600},{"d":5.05,"p":1000},{"d":5.12,"p":400},{"d":5.16,"p":160},{"d":5.18,"p":100},
            {"d":5.20,"p":3},{"d":5.24,"p":110},{"d":5.28,"p":3},{"d":5.32,"p":80},{"d":5.36,"p":3},{"d":5.40,"p":120},{"d":5.44,"p":3},{"d":5.48,"p":70},{"d":5.52,"p":3},{"d":5.56,"p":100},{"d":5.60,"p":3},{"d":5.64,"p":90},{"d":5.68,"p":3},{"d":5.72,"p":130},{"d":5.76,"p":3},{"d":5.80,"p":60},{"d":5.84,"p":3},{"d":5.88,"p":110},{"d":5.92,"p":3},{"d":5.96,"p":85},{"d":6.00,"p":3},{"d":6.04,"p":120},{"d":6.08,"p":3},{"d":6.12,"p":75},{"d":6.16,"p":3},{"d":6.20,"p":105},{"d":6.24,"p":3},{"d":6.28,"p":95},{"d":6.32,"p":3},{"d":6.36,"p":125},{"d":6.40,"p":3},{"d":6.44,"p":65},{"d":6.48,"p":3},{"d":6.52,"p":110},{"d":6.56,"p":3},{"d":6.60,"p":90},{"d":6.64,"p":3},{"d":6.68,"p":115},{"d":6.72,"p":3},{"d":6.76,"p":80},{"d":6.80,"p":3},{"d":6.84,"p":120},{"d":6.88,"p":3},{"d":6.92,"p":70},{"d":6.96,"p":3},{"d":7.00,"p":100},{"d":7.04,"p":3},{"d":7.08,"p":110},{"d":7.12,"p":3},{"d":7.16,"p":85},{"d":7.20,"p":3},{"d":7.24,"p":125},{"d":7.28,"p":3},{"d":7.32,"p":95},{"d":7.36,"p":3},{"d":7.40,"p":115},{"d":7.44,"p":3},{"d":7.48,"p":80},{"d":7.52,"p":3},{"d":7.56,"p":120},{"d":7.60,"p":3},{"d":7.64,"p":100},{"d":7.68,"p":3},
            {"d":7.70,"p":100},{"d":7.75,"p":646},{"d":7.85,"p":794},{"d":7.95,"p":700},{"d":8.05,"p":400},{"d":8.15,"p":800},{"d":8.22,"p":166},{"d":8.30,"p":800},{"d":8.45,"p":1000},{"d":8.60,"p":1260},{"d":8.75,"p":1400},{"d":8.90,"p":1000},{"d":9.00,"p":600},{"d":9.10,"p":269},{"d":9.20,"p":117},{"d":9.30,"p":400},{"d":9.45,"p":1000},{"d":9.60,"p":1780},{"d":9.75,"p":1500},{"d":9.90,"p":900},{"d":10.05,"p":400},{"d":10.20,"p":650},{"d":10.40,"p":1000},{"d":10.60,"p":1200},{"d":10.80,"p":1100},{"d":11.00,"p":700},{"d":11.10,"p":200},{"d":11.20,"p":117},{"d":11.30,"p":700},{"d":11.50,"p":1300},{"d":11.65,"p":1780},{"d":11.85,"p":1000},{"d":11.95,"p":400},{"d":12.10,"p":83},{"d":12.20,"p":250},{"d":12.35,"p":700},{"d":12.55,"p":1300},{"d":12.70,"p":1380},{"d":12.85,"p":900},{"d":12.98,"p":400},{"d":13.05,"p":130},{"d":13.10,"p":300},{"d":13.19,"p":117},{"d":13.22,"p":3},{"d":13.25,"p":90},{"d":13.28,"p":3},{"d":13.31,"p":120},{"d":13.34,"p":3},{"d":13.37,"p":80},{"d":13.40,"p":3},{"d":13.43,"p":110},{"d":13.46,"p":3},{"d":13.49,"p":70},{"d":13.52,"p":3},{"d":13.55,"p":150},{"d":13.61,"p":230},{"d":13.75,"p":800},{"d":13.90,"p":1380},{"d":14.05,"p":1380},{"d":14.15,"p":600},{"d":14.25,"p":300},{"d":14.27,"p":3},{"d":14.30,"p":100},{"d":14.33,"p":3},{"d":14.36,"p":80},{"d":14.39,"p":3},{"d":14.42,"p":120},{"d":14.45,"p":3},{"d":14.48,"p":200},{"d":14.50,"p":330},{"d":14.65,"p":700},{"d":14.80,"p":1000},{"d":15.00,"p":1000}
          ]},
          "mark": {"type": "line", "color": "#0000ff", "strokeWidth": 1.3, "clip": true},
          "encoding": {
            "x": {"field": "d", "type": "quantitative", "scale": {"domain": [0, 15], "nice": false}, "axis": {"values": [1,2,3,4,5,6,7,8,9,10,11,12,13,14]}},
            "y": {"field": "p", "type": "quantitative", "scale": {"type": "log", "domain": [10, 1e5], "nice": false}, "axis": {"values": [100, 1000, 10000], "labelOverlap": false, "labelExpr": "datum.value > 3000 ? '10⁴' : datum.value > 300 ? '10³' : '10²'"}}
          }
        },
        {
          "data": {"values": [
            {"d":1.63,"q":912},{"d":1.75,"q":820},{"d":1.90,"q":850},{"d":2.00,"q":700},{"d":2.10,"q":500},{"d":2.15,"q":83},{"d":2.20,"q":300},{"d":2.40,"q":800},{"d":2.60,"q":900},{"d":2.75,"q":1200},{"d":2.95,"q":1000},{"d":3.05,"q":600},{"d":3.12,"q":300},{"d":3.18,"q":200},{"d":3.25,"q":700},{"d":3.50,"q":1200},{"d":3.75,"q":1300},{"d":3.95,"q":1000},{"d":4.10,"q":700},{"d":4.30,"q":800},{"d":4.55,"q":1150},{"d":4.75,"q":1300},{"d":4.90,"q":1000},{"d":5.05,"q":400},{"d":5.12,"q":200},
            {"d":5.14,"q":250},{"d":5.18,"q":90},{"d":5.22,"q":300},{"d":5.26,"q":120},{"d":5.30,"q":220},{"d":5.34,"q":60},{"d":5.38,"q":280},{"d":5.42,"q":110},{"d":5.46,"q":240},{"d":5.50,"q":80},{"d":5.54,"q":260},{"d":5.58,"q":130},{"d":5.62,"q":300},{"d":5.66,"q":70},{"d":5.70,"q":230},{"d":5.74,"q":100},{"d":5.78,"q":270},{"d":5.82,"q":40},{"d":5.86,"q":250},{"d":5.90,"q":120},{"d":5.94,"q":280},{"d":5.98,"q":90},{"d":6.02,"q":240},{"d":6.06,"q":110},{"d":6.10,"q":300},{"d":6.14,"q":60},{"d":6.18,"q":260},{"d":6.22,"q":100},{"d":6.26,"q":220},{"d":6.30,"q":130},{"d":6.34,"q":290},{"d":6.38,"q":80},{"d":6.42,"q":250},{"d":6.46,"q":20},{"d":6.50,"q":270},{"d":6.54,"q":110},{"d":6.58,"q":240},{"d":6.62,"q":90},{"d":6.66,"q":300},{"d":6.70,"q":120},{"d":6.74,"q":230},{"d":6.78,"q":70},{"d":6.82,"q":260},{"d":6.86,"q":100},{"d":6.90,"q":280},{"d":6.94,"q":50},{"d":6.98,"q":250},{"d":7.02,"q":120},{"d":7.06,"q":240},{"d":7.10,"q":90},{"d":7.14,"q":290},{"d":7.18,"q":110},{"d":7.22,"q":220},{"d":7.26,"q":60},{"d":7.30,"q":270},{"d":7.34,"q":130},{"d":7.38,"q":250},{"d":7.42,"q":80},{"d":7.46,"q":300},{"d":7.50,"q":100},{"d":7.54,"q":240},{"d":7.58,"q":30},{"d":7.62,"q":260},{"d":7.66,"q":120},
            {"d":7.70,"q":200},{"d":7.75,"q":500},{"d":7.80,"q":60},{"d":7.85,"q":700},{"d":7.90,"q":150},{"d":7.95,"q":600},{"d":8.00,"q":800},{"d":8.10,"q":500},{"d":8.20,"q":646},{"d":8.30,"q":900},{"d":8.50,"q":1000},{"d":8.70,"q":1100},{"d":8.90,"q":900},{"d":9.10,"q":800},{"d":9.30,"q":900},{"d":9.50,"q":1200},{"d":9.70,"q":1100},{"d":9.90,"q":900},{"d":10.10,"q":800},{"d":10.30,"q":600},{"d":10.50,"q":800},{"d":10.70,"q":1000},{"d":10.90,"q":900},{"d":11.10,"q":700},{"d":11.30,"q":1000},{"d":11.50,"q":1100},{"d":11.70,"q":1200},{"d":11.90,"q":900},{"d":12.10,"q":500},{"d":12.20,"q":400},{"d":12.30,"q":700},{"d":12.50,"q":1000},{"d":12.70,"q":900},{"d":12.90,"q":600},{"d":13.05,"q":400},{"d":13.15,"q":300},{"d":13.25,"q":150},{"d":13.35,"q":350},{"d":13.45,"q":120},{"d":13.55,"q":300},{"d":13.70,"q":400},{"d":13.90,"q":450},{"d":14.10,"q":500},{"d":14.30,"q":600},{"d":14.50,"q":650},{"d":14.70,"q":600},{"d":14.90,"q":500},{"d":15.00,"q":450}
          ]},
          "mark": {"type": "line", "color": "#ff0000", "strokeWidth": 1.3, "clip": true},
          "encoding": {"x": {"field": "d", "type": "quantitative"}, "y": {"field": "q", "type": "quantitative", "axis": {"values": [100, 1000, 10000], "labelOverlap": false, "labelExpr": "datum.value > 3000 ? '10⁴' : datum.value > 300 ? '10³' : '10²'"}}}
        },
        {
          "data": {"values": [{"t": "rt"}]},
          "mark": {"type": "text", "align": "left", "baseline": "middle", "dx": 4, "fontSize": 8, "color": "#222", "clip": false},
          "encoding": {"text": {"field": "t"}, "x": {"datum": 15, "type": "quantitative"}, "y": {"datum": 13000, "type": "quantitative", "axis": {"values": [100, 1000, 10000], "labelOverlap": false, "labelExpr": "datum.value > 3000 ? '10⁴' : datum.value > 300 ? '10³' : '10²'"}}}
        }
      ]
    },
    {
      "width": 584, "height": 45,
      "layer": [
        {
          "data": {"values": [
            {"d":0.0,"g":0.16},{"d":0.5,"g":0.17},{"d":1.0,"g":0.15},{"d":1.5,"g":0.17},{"d":2.0,"g":0.16},{"d":2.5,"g":0.18},{"d":3.0,"g":0.16},{"d":3.5,"g":0.15},{"d":4.0,"g":0.17},{"d":4.5,"g":0.16},{"d":5.0,"g":0.17},{"d":5.5,"g":0.16},{"d":6.0,"g":0.18},{"d":6.5,"g":0.16},{"d":7.0,"g":0.15},{"d":7.5,"g":0.17},{"d":8.0,"g":0.16},{"d":8.5,"g":0.17},{"d":9.0,"g":0.15},{"d":9.5,"g":0.16},{"d":10.0,"g":0.17},{"d":10.5,"g":0.16},{"d":11.0,"g":0.15},{"d":11.5,"g":0.17},{"d":12.0,"g":0.16},{"d":12.5,"g":0.15},{"d":13.0,"g":0.16},{"d":13.5,"g":0.17},{"d":14.0,"g":0.15},{"d":14.5,"g":0.16},{"d":14.72,"g":0.16},{"d":14.75,"g":0.5},{"d":14.79,"g":8},{"d":14.83,"g":13},{"d":14.9,"g":13},{"d":15.0,"g":12.5}
          ]},
          "mark": {"type": "line", "color": "#1010ee", "strokeWidth": 1.3, "clip": true},
          "encoding": {
            "x": {"field": "d", "type": "quantitative", "scale": {"domain": [0, 15], "nice": false}, "axis": {"values": [0,1,2,3,4,5,6,7,8,9,10,11,12,13,14], "labels": true, "domain": false, "labelOffset": 19.5, "labelFlush": false, "labelOverlap": false, "labelPadding": 4, "labelFontSize": 10.5, "labelExpr": "'7/' + (datum.value + 16)", "title": "2026", "titleAngle": 0, "titleAlign": "right", "titleBaseline": "middle", "titleX": -1.5, "titleY": 10, "titleFontSize": 10, "titleFontWeight": "normal", "titleColor": "#222", "titleFont": "DejaVu Sans"}},
            "y": {"field": "g", "type": "quantitative", "scale": {"type": "log", "domain": [0.0794, 79430], "nice": false}, "axis": {"values": [1, 100, 10000], "labelOverlap": false, "labelExpr": "datum.value > 3000 ? '10⁴' : datum.value > 30 ? '10²' : '10⁰'"}}
          }
        }
      ]
    }
  ]
}
